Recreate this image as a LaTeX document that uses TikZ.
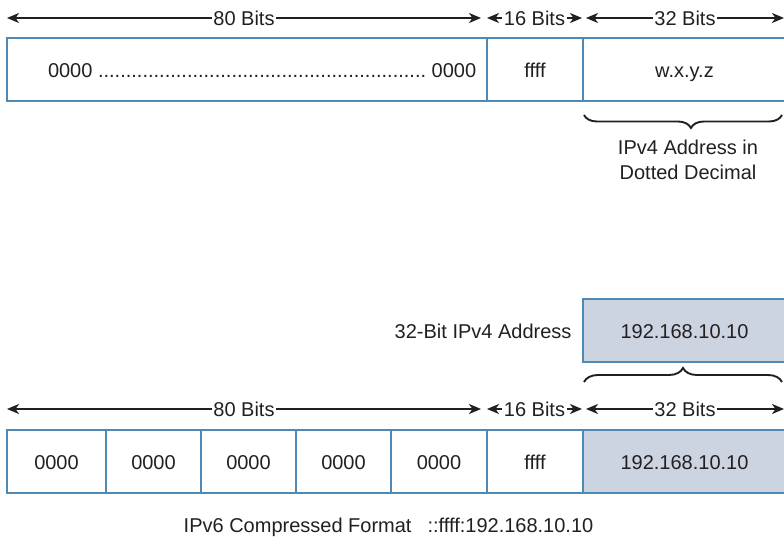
\documentclass[tikz,border=0pt]{standalone}
\usepackage{fontspec}
\setmainfont{Liberation Sans}
\usetikzlibrary{arrows.meta,decorations.pathreplacing}
\definecolor{boxblue}{HTML}{4F8AB5}
\definecolor{ipfill}{HTML}{CDD4E1}
\definecolor{ink}{HTML}{231F20}
\begin{document}
\begin{tikzpicture}[x=1pt,y=-1pt,
  every node/.style={font=\fontsize{20}{25}\selectfont, text=ink},
  cell/.style={draw=boxblue, line width=1.3pt, minimum height=63pt, inner sep=0pt, outer sep=0pt, text height=18pt, text depth=1.7pt},
  ipcell/.style={cell, fill=ipfill},
  dim/.style={draw=ink, line width=1.9pt, {Stealth[length=12pt,width=10pt,inset=3.5pt]}-{Stealth[length=12pt,width=10pt,inset=3.5pt]}},
  dimlbl/.style={fill=white, inner sep=1.5pt},
  bracestyle/.style={draw=ink, line width=1.9pt, decorate},
]
\useasboundingbox (0,0) rectangle (784,540);

% ---- top row ----
\node[cell, minimum width=480pt] (t1) at (247,69.5) {\hbox to 458pt{\hskip30pt 0000\ \xleaders\hbox{.}\hfill\ 0000}};
\node[cell, minimum width=96pt] (t2) at (535,69.5) {ffff};
\node[cell, minimum width=203pt] (t3) at (684.5,69.5) {w.x.y.z};

\coordinate (ta1) at (7,18);
\coordinate (ta2) at (481,18);
\coordinate (tb1) at (487,18);
\coordinate (tb2) at (582,18);
\coordinate (tc1) at (586,18);
\coordinate (tc2) at (784,18);
\draw[dim] (ta1) -- node[dimlbl] {80 Bits} (ta2);
\draw[dim] (tb1) -- node[dimlbl] {16 Bits} (tb2);
\draw[dim] (tc1) -- node[dimlbl] {32 Bits} (tc2);

\coordinate (tbr1) at (584,115);
\coordinate (tbr2) at (782,115);
\draw[bracestyle, decoration={brace, mirror, amplitude=13pt, aspect=0.54}] (tbr1) -- (tbr2);
\node[align=center] (tbl) at (688,160) {IPv4 Address in\\Dotted Decimal};

% ---- middle ----
\node[ipcell, minimum width=203pt] (m1) at (684.5,330.5) {192.168.10.10};
\node[anchor=east] (ml) at (575,331) {32-Bit IPv4 Address};
\coordinate (mbr1) at (584,382);
\coordinate (mbr2) at (782,382);
\draw[bracestyle, decoration={brace, amplitude=14pt, aspect=0.5}] (mbr1) -- (mbr2);

% ---- bottom row ----
\coordinate (ba1) at (7,409);
\coordinate (ba2) at (481,409);
\coordinate (bb1) at (487,409);
\coordinate (bb2) at (582,409);
\coordinate (bc1) at (586,409);
\coordinate (bc2) at (784,409);
\draw[dim] (ba1) -- node[dimlbl] {80 Bits} (ba2);
\draw[dim] (bb1) -- node[dimlbl] {16 Bits} (bb2);
\draw[dim] (bc1) -- node[dimlbl] {32 Bits} (bc2);

\node[cell, minimum width=99pt] (b1) at (56.5,461.5) {0000};
\node[cell, minimum width=95pt] (b2) at (153.5,461.5) {0000};
\node[cell, minimum width=95pt] (b3) at (248.5,461.5) {0000};
\node[cell, minimum width=95pt] (b4) at (343.5,461.5) {0000};
\node[cell, minimum width=96pt] (b5) at (439,461.5) {0000};
\node[cell, minimum width=96pt] (b6) at (535,461.5) {ffff};
\node[ipcell, minimum width=203pt] (b7) at (684.5,461.5) {192.168.10.10};

\node (cap) at (388.5,527) {IPv6 Compressed Format\hspace{16pt}::ffff:192.168.10.10};
\end{tikzpicture}
\end{document}
